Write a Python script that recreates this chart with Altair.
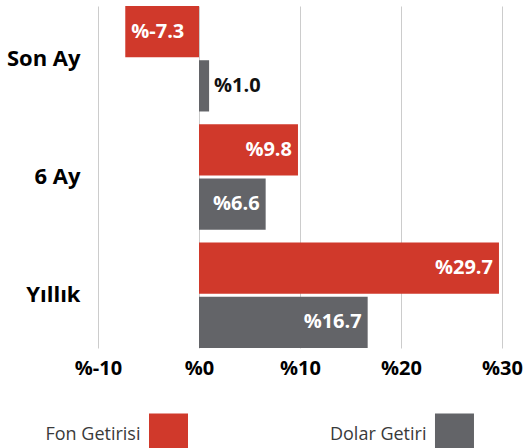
import altair as alt
import pandas as pd

categories = ["Son Ay", "6 Ay", "Yıllık"]
series = ["Fon Getirisi", "Dolar Getiri"]
fon_values = [-7.3, 9.8, 29.7]
dolar_values = [1.0, 6.6, 16.7]
tick_values = [-10, 0, 10, 20, 30]
colors = ["#D0392B", "#636468"]

FONT = "Open Sans"

rows = []
for c, f, d in zip(categories, fon_values, dolar_values):
    rows.append({"cat": c, "series": series[0], "v": f})
    rows.append({"cat": c, "series": series[1], "v": d})
df = pd.DataFrame(rows)

legend_df = pd.DataFrame({"series": series, "i": [0, 1]})

y_enc = alt.Y(
    "cat:N",
    sort=categories,
    scale=alt.Scale(paddingInner=0.108, paddingOuter=0),
    axis=alt.Axis(
        title=None, ticks=False, domain=False, labelPadding=18,
        labelFont=FONT, labelFontSize=22, labelFontWeight="bold",
        labelColor="#000000", minExtent=98, maxExtent=98,
    ),
)
yoff_enc = alt.YOffset("series:N", sort=series, scale=alt.Scale(paddingInner=0.055))
x_enc = alt.X(
    "v:Q",
    scale=alt.Scale(domain=[-10, 30]),
    axis=alt.Axis(
        title=None, values=tick_values, labelExpr="'%' + datum.value",
        grid=True, gridColor="#cccccc", gridWidth=1, ticks=False, domain=False,
        labelFlush=False, labelOverlap=False, labelBound=False,
        labelPadding=10, labelFont=FONT, labelFontSize=20, labelFontWeight="bold",
        labelColor="#000000",
    ),
)

base = alt.Chart(df).encode(y=y_enc, yOffset=yoff_enc, x=x_enc)

bars = base.mark_bar().encode(
    color=alt.Color("series:N", scale=alt.Scale(domain=series, range=colors), legend=None)
)

lbl = base.transform_calculate(
    lbl="'%' + replace(format(datum.v, '.1f'), '\u2212', '-')"
)
txt_pos = lbl.transform_filter("datum.v >= 3").mark_text(
    align="right", baseline="middle", dx=-6, color="white",
    font=FONT, fontSize=20, fontWeight="bold"
).encode(text="lbl:N")
txt_neg = lbl.transform_filter("datum.v <= -3").mark_text(
    align="left", baseline="middle", dx=6, color="white",
    font=FONT, fontSize=20, fontWeight="bold"
).encode(text="lbl:N")
txt_small = lbl.transform_filter("abs(datum.v) < 3").mark_text(
    align="left", baseline="middle", dx=5, color="#111111",
    font=FONT, fontSize=20, fontWeight="bold"
).encode(text="lbl:N")

main = alt.layer(bars, txt_pos, txt_neg, txt_small).properties(width=404, height=342)

lx = alt.X("i:Q", scale=alt.Scale(domain=[-0.1626, 1.334]), axis=None)
leg_base = alt.Chart(legend_df).encode(x=lx)
leg_sq = leg_base.mark_square(size=1521, opacity=1, xOffset=24).encode(
    color=alt.Color("series:N", scale=alt.Scale(domain=series, range=colors), legend=None)
)
leg_txt = leg_base.mark_text(
    align="right", baseline="middle", dx=-4, dy=2, font=FONT, fontSize=18,
    color="#3a3a3a"
).encode(text="series:N")
legend = alt.layer(leg_sq, leg_txt).properties(width=428, height=30)

chart = alt.vconcat(main, legend).properties(
    padding={"left": 0, "top": 6, "right": 0, "bottom": 0}
).configure_view(stroke=None).configure_concat(spacing=35)

chart.save("out.html", embed_options={"renderer": "svg", "actions": False})
